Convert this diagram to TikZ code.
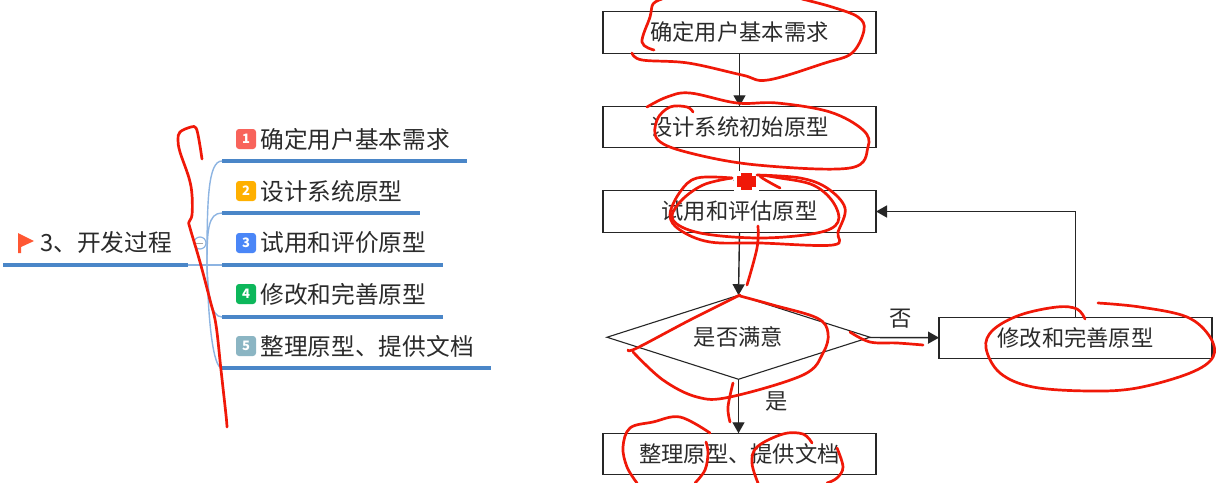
\documentclass[tikz,border=0pt]{standalone}
\usepackage{fontspec}
\setmainfont{Noto Sans CJK SC}
\usetikzlibrary{shapes.geometric, arrows.meta, positioning}
\definecolor{rulecol}{HTML}{4A86C8}
\definecolor{branchcol}{HTML}{8DB4E2}
\definecolor{pencol}{HTML}{F01808}
\definecolor{inkcol}{HTML}{2B2B2B}

\begin{document}
\begin{tikzpicture}[
    x=1pt, y=-1pt,
    node distance=53pt and 69pt,
    >={Triangle[length=11pt, width=12pt]},
    font=\fontsize{22.3pt}{26pt}\selectfont,
    base/.style={draw=black!85, align=center, line width=1.4pt, inner sep=0pt, outer sep=0pt, text=inkcol},
    process/.style={base, rectangle, minimum width=273pt, minimum height=41.5pt},
    decision/.style={base, diamond, aspect=3.13, line width=1.1pt, minimum width=263pt, minimum height=84pt},
    arrow/.style={->, line width=1.4pt, black!85},
    lbl/.style={inner sep=0pt, text=inkcol},
    topic/.style={inner sep=0pt, text=inkcol, font=\fontsize{23.7pt}{28pt}\selectfont},
    badge/.style={rectangle, rounded corners=3pt, minimum size=20pt, inner sep=0pt, text=white, font=\fontsize{13pt}{14pt}\selectfont\bfseries},
    rulel/.style={line width=3.8pt, rulecol},
    branch/.style={line width=1.4pt, branchcol},
    pen/.style={line width=2.7pt, pencol, line cap=round, line join=round}
  ]
    \useasboundingbox (0,0) rectangle (1221,482);
    \fill[white] (0,0) rectangle (1221,482);

    \fill[red!65!orange!80] (18,233) -- (34,241) -- (21,247) -- (21,253) -- (18,253) -- cycle;
    \node[topic, anchor=west] (root) at (40,242) {3、开发过程};
    \coordinate (rootl) at (3,265);
    \coordinate (rootr) at (188,265);
    \coordinate (hub) at (207,265);
    \node[badge, fill={rgb,255:red,248;green,99;blue,91}] (b1) at (246,139) {1};
    \node[badge, fill={rgb,255:red,255;green,176;blue,0}] (b2) at (246,191) {2};
    \node[badge, fill={rgb,255:red,74;green,134;blue,247}] (b3) at (246,243) {3};
    \node[badge, fill={rgb,255:red,13;green,183;blue,91}] (b4) at (246,294) {4};
    \node[badge, fill={rgb,255:red,139;green,181;blue,195}] (b5) at (246,346) {5};
    \node[topic, right=4pt of b1] (t1) {确定用户基本需求};
    \node[topic, right=4pt of b2] (t2) {设计系统原型};
    \node[topic, right=4pt of b3] (t3) {试用和评价原型};
    \node[topic, right=4pt of b4] (t4) {修改和完善原型};
    \node[topic, right=4pt of b5] (t5) {整理原型、提供文档};
    \coordinate (u1l) at (222,161);
    \coordinate (u1r) at (467,161);
    \coordinate (u2l) at (222,213);
    \coordinate (u2r) at (420,213);
    \coordinate (u3l) at (222,265);
    \coordinate (u3r) at (443,265);
    \coordinate (u4l) at (222,317);
    \coordinate (u4r) at (443,317);
    \coordinate (u5l) at (222,368);
    \coordinate (u5r) at (491,368);
    \draw[rulel] (rootl) -- (rootr);
    \draw[rulel] (u1l) -- (u1r);
    \draw[rulel] (u2l) -- (u2r);
    \draw[rulel] (u3l) -- (u3r);
    \draw[rulel] (u4l) -- (u4r);
    \draw[rulel] (u5l) -- (u5r);
    \draw[branch] (rootr) -- (u3l);
    \draw[branch] (hub) .. controls (207,200) and (208,161) .. (u1l);
    \draw[branch] (hub) .. controls (207,230) and (208,213) .. (u2l);
    \draw[branch] (hub) .. controls (208,295) and (211,317) .. (u4l);
    \draw[branch] (hub) .. controls (208,320) and (213,368) .. (u5l);
    \node[circle, draw=branchcol, fill=white, line width=1.2pt, minimum size=12pt, inner sep=0pt] (fold) at (200,243) {};
    \draw[line width=1pt, gray!70] (fold.west) ++(2.5,0) -- ++(7,0);

    \node[process] (need) at (739.5,32.5) {确定用户基本需求};
    \node[process, below=53pt of need] (design) {设计系统初始原型};
    \node[process, below=43pt of design] (trial) {试用和评估原型};
    \node[decision, below=63pt of trial, xshift=-1pt] (check) {是否满意};
    \node[process, below=54pt of check, xshift=1pt] (final) {整理原型、提供文档};
    \node[process, right=69pt of check, yshift=-0.7pt] (modify) {修改和完善原型};
    \draw[arrow] (need) -- (design);
    \draw[arrow] (design) -- (trial);
    \draw[arrow] (trial.south) -- (check.north);
    \draw[arrow] (check.south) -- node[lbl, right=26pt, yshift=5pt] {是} (check.south |- final.north);
    \draw[arrow] (check) -- node[lbl, above=9pt, xshift=-3pt] {否} (modify);
    \draw[arrow] (modify.north) |- (trial.east);

    \fill[white] (734,171) rectangle (759,193);
    \fill[pencol] (741,173) rectangle (752,190);
    \fill[pencol] (737,176) rectangle (756,187);

    \draw[pen] plot[smooth, tension=0.6] coordinates {(202,159) (199,140) (196,128) (191,127) (180,132) (178,140) (180,152) (189,178) (192,195) (192,215) (189,222) (190,228) (200,262) (210,300) (216,325) (221,370) (226,415) (227,427)};
    \draw[pen] plot[smooth, tension=0.6] coordinates {(654,50) (642,42) (650,17) (653,4) (662,-1)};
    \draw[pen] plot[smooth, tension=0.6] coordinates {(802,-1) (832,7) (858,17) (864,30) (852,53) (825,63) (768,80) (742,75) (688,63) (642,60) (632,53)};
    \draw[pen] plot[smooth, tension=0.6] coordinates {(693,112) (687,107) (670,107) (657,120) (658,140) (690,153) (757,165) (850,168) (868,147) (863,130) (830,112) (777,103) (737,103) (690,93) (667,97) (647,107)};
    \draw[pen] plot[smooth, tension=0.6] coordinates {(732,178) (697,178) (680,192) (670,215) (680,230) (710,242) (760,243) (833,245) (838,232) (845,208) (827,188) (800,178) (757,175)};
    \draw[pen] plot[smooth, tension=0.6] coordinates {(732,178) (703,185) (680,202) (673,220) (700,233) (760,238) (817,233) (838,222) (833,202) (813,185) (780,178) (760,176) (780,188)};
    \draw[pen] plot[smooth, tension=0.6] coordinates {(758,226) (757,248) (747,285)};
    \draw[pen] plot[smooth, tension=0.6] coordinates {(740,295) (690,320) (637,348) (628,350)};
    \draw[pen] plot[smooth, tension=0.6] coordinates {(633,352) (663,380) (697,397) (730,397) (803,375) (823,353) (828,333) (817,318) (773,305) (740,296)};
    \draw[pen] plot[smooth, tension=0.6] coordinates {(733,383) (728,407) (730,422)};
    \draw[pen] plot[smooth, tension=0.6] coordinates {(850,332) (870,342) (897,343) (923,345)};
    \draw[pen] plot[smooth, tension=0.6] coordinates {(1085,319) (1077,309) (1057,307) (1020,315) (993,330) (986,348) (1000,373) (1033,387) (1090,391) (1137,388) (1190,373) (1213,357) (1210,337) (1187,317) (1140,307) (1098,303)};
    \draw[pen] plot[smooth, tension=0.6] coordinates {(710,433) (680,417) (653,422) (630,428) (623,447) (627,467) (637,483)};
    \draw[pen] plot[smooth, tension=0.6] coordinates {(706,442) (708,453) (705,470) (695,483)};
    \draw[pen] plot[smooth, tension=0.6] coordinates {(812,443) (803,434) (783,434) (757,447) (752,463) (758,483)};
    \draw[pen] plot[smooth, tension=0.6] coordinates {(837,448) (843,467) (837,478) (827,483)};
  \end{tikzpicture}
\end{document}
